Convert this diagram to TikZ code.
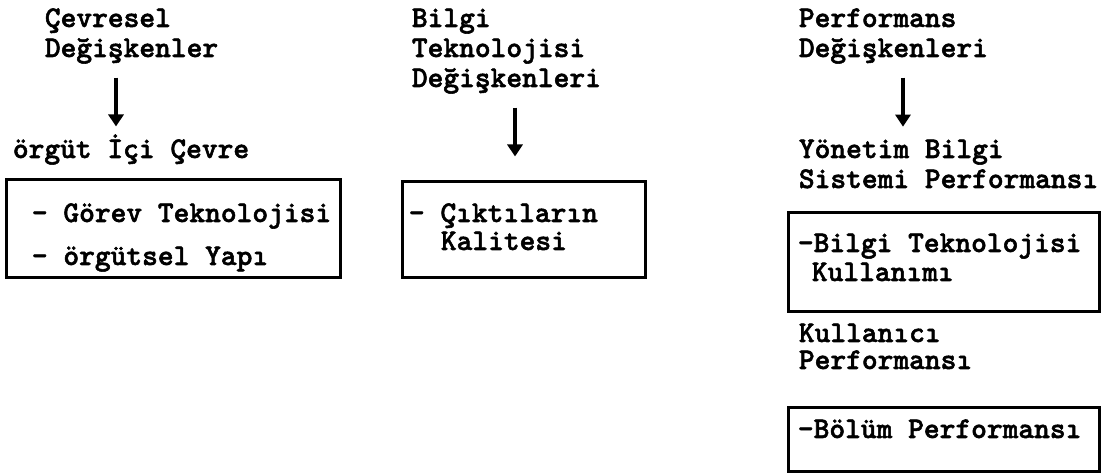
\documentclass[tikz,border=0pt]{standalone}
\usepackage{fontspec}
\usetikzlibrary{arrows.meta,fit}

\newfontfamily\typew[FakeBold=1.8]{lmmonolt10-bold.otf}

\tikzset{
	txt/.style={anchor=base west, inner sep=0.75pt, font=\typew\fontsize{15}{16}\selectfont},
	frame/.style={draw, line width=1.5pt, inner sep=0pt},
	conn/.style={line width=2pt, -{Triangle[width=7.5pt,length=6pt]}},
}

\begin{document}
\begin{tikzpicture}[x=0.5pt,y=0.5pt,yscale=-1,xscale=1]
	\useasboundingbox (0,0) rectangle (1119,474);

	% Text Node
	\node (cevre) [txt] at (43,27) {Çevresel};
	\node (degA) [txt] at (43,57) {Değişkenler};
	\node (orgic) [txt] at (11,158) {örgüt İçi Çevre};
	% Text Node
	\node (bilgi) [txt] at (410,27) {Bilgi};
	\node (tekno) [txt] at (410,57) {Teknolojisi};
	\node (degB) [txt] at (410,87) {Değişkenleri};
	% Text Node
	\node (perf) [txt] at (797,27) {Performans};
	\node (degC) [txt] at (797,57) {Değişkenleri};
	\node (ybs) [txt] at (797,158) {Yönetim Bilgi};
	\node (ybsp) [txt] at (797,188) {Sistemi Performansı};
	\node (kull) [txt] at (797,342) {Kullanıcı};
	\node (kullp) [txt] at (797,369) {Performansı};

	% Boxes
	\node (boxA) [frame, fit={(6,180) (340,278)}] {};
	\node (boxB) [frame, fit={(402,182) (645,278)}] {};
	\node (boxC) [frame, fit={(788,213) (1099,312)}] {};
	\node (boxD) [frame, fit={(788,408) (1099,472)}] {};

	% Text Node
	\node (gorev) [txt] at (30,222) {- Görev Teknolojisi};
	\node (yapi) [txt] at (30,265) {- örgütsel Yapı};
	\node (cikti) [txt] at (407,222) {- Çıktıların};
	\node (kalite) [txt] at (439,250) {Kalitesi};
	\node (btk) [txt] at (796,252) {-Bilgi Teknolojisi};
	\node (btkk) [txt] at (810,281) {Kullanımı};
	\node (bolum) [txt] at (796,438) {-Bölüm Performansı};

	% Connection
	\coordinate (colA) at (116,0);
	\coordinate (colB) at (515,0);
	\coordinate (colC) at (903,0);
	\draw [conn, shorten <=6pt, shorten >=3pt] (degA.south -| colA) -- (orgic.north -| colA);
	\draw [conn, shorten <=6pt, shorten >=12pt] (degB.south -| colB) -- (boxB.north -| colB);
	\draw [conn, shorten <=6pt, shorten >=5.5pt] (degC.south -| colC) -- (ybs.north -| colC);

\end{tikzpicture}
\end{document}
